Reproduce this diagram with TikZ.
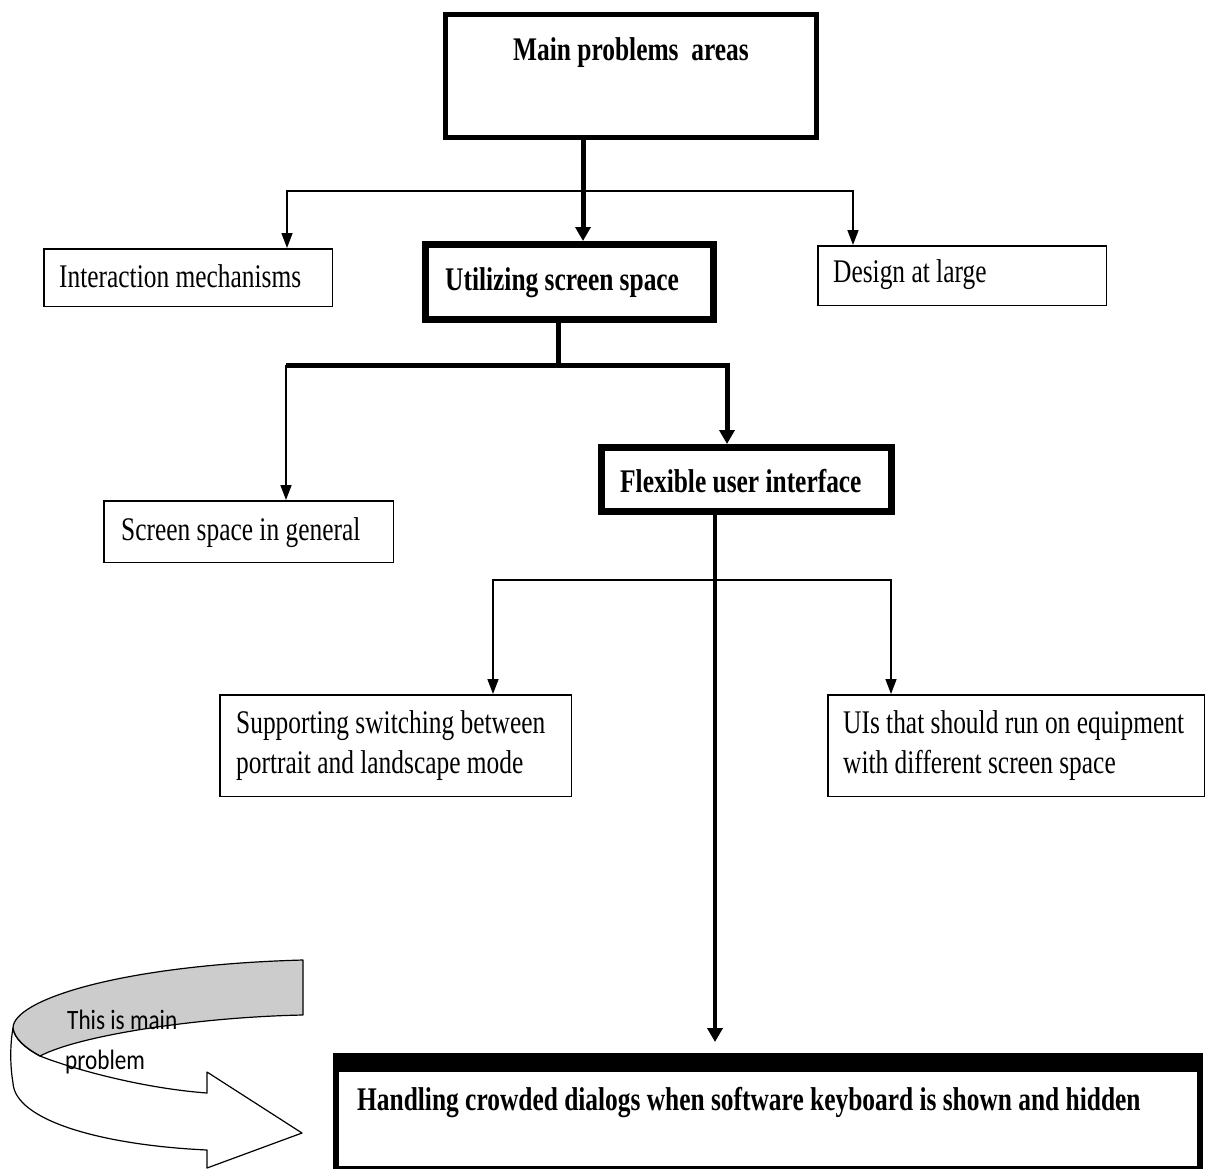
\documentclass[tikz,border=0pt]{standalone}
\usepackage{fontspec}
\setmainfont{Liberation Serif}[FakeStretch=0.77]
\newfontfamily\notefont{Carlito}[FakeStretch=0.83]
\usetikzlibrary{arrows.meta}
\definecolor{bandgray}{RGB}{204,204,204}
\begin{document}
\begin{tikzpicture}[x=1pt,y=-1pt,
  thinbox/.style={draw,line width=1.5pt,inner sep=0pt},
  thickbox/.style={draw,line width=7pt,inner sep=0pt},
  txt/.style={anchor=base west,inner sep=0pt,font=\fontsize{33}{40}\selectfont},
  btxt/.style={txt,font=\fontsize{33}{40}\selectfont\bfseries},
  thinline/.style={line width=1.5pt,line join=miter},
  thickline/.style={line width=5pt,line join=miter},
  thintip/.style={-{Triangle[length=15pt,width=11pt]}},
  thicktip/.style={-{Triangle[length=14pt,width=15pt]}},
  bothtips/.style={{Triangle[length=15pt,width=11pt]}-{Triangle[length=15pt,width=11pt]}}
]
\useasboundingbox (0,0) rectangle (1207,1168);
\fill[white] (0,0) rectangle (1207,1168);

% boxes
\node[draw,line width=5pt,inner sep=0pt,minimum width=371pt,minimum height=123pt] (main) at (631,76) {};
\node[btxt] (mainT) at (513,60) {Main problems~ areas};

\node[thinbox,minimum width=288.5pt,minimum height=57.5pt] (inter) at (188,277.5) {};
\node[txt] (interT) at (59,287) {Interaction mechanisms};

\node[thickbox,minimum width=288pt,minimum height=75pt] (ut) at (569.5,282) {};
\node[btxt] (utT) at (445,290) {Utilizing screen space};

\node[thinbox,minimum width=288.5pt,minimum height=59.5pt] (design) at (962,275.5) {};
\node[txt] (designT) at (833,282) {Design at large};

\node[thinbox,minimum width=289.5pt,minimum height=61.5pt] (screen) at (248.5,531.5) {};
\node[txt] (screenT) at (121,540) {Screen space in general};

\node[thickbox,minimum width=290pt,minimum height=64pt] (flex) at (746.5,479.5) {};
\node[btxt] (flexT) at (620,492) {Flexible user interface};

\node[thinbox,minimum width=351.5pt,minimum height=101.5pt] (sup) at (395.5,745.5) {};
\node[txt] (supT1) at (236,733) {Supporting switching between};
\node[txt] (supT2) at (236,773) {portrait and landscape mode};

\node[thinbox,minimum width=376.5pt,minimum height=101.5pt] (uis) at (1016,745.5) {};
\node[txt] (uisT1) at (843,733) {UIs that should run on equipment};
\node[txt] (uisT2) at (843,773) {with different screen space};

\node[draw,line width=6pt,inner sep=0pt,minimum width=864pt,minimum height=113pt] (hand) at (768,1112.5) {};
\fill (hand.north west) rectangle ([yshift=-19pt]hand.north east);
\node[btxt] (handT) at (357,1110) {Handling crowded dialogs when software keyboard is shown and hidden};

% connector coordinates
\coordinate (c1) at (583,0);
\coordinate (b1L) at (287,191);
\coordinate (b1R) at (853,191);
\coordinate (c2) at (558,0);
\coordinate (b2L) at (286,365);
\coordinate (b2R) at (727,365);
\coordinate (c3) at (715,0);
\coordinate (b3L) at (493,580);
\coordinate (b3R) at (891,580);

% connectors
\draw[thinline,bothtips] (inter.north -| b1L) -- (b1L) -- (b1R) -- (design.north -| b1R);
\draw[thickline,thicktip] (main.south -| c1) -- (ut.north -| c1);

\draw[thickline] (ut.south -| c2) -- (c2 |- b2L);
\draw[thinline,thintip] (b2L) -- (screen.north -| b2L);
\draw[thickline,thicktip] (b2L) -- (b2R) -- (flex.north -| b2R);

\draw[thinline,bothtips] (sup.north -| b3L) -- (b3L) -- (b3R) -- (uis.north -| b3R);
\draw[line width=4.5pt,thicktip,shorten >=11pt] (flex.south -| c3) -- (hand.north -| c3);

% curved arrow (back band)
\fill[bandgray] (303,960) -- (303,1015) .. controls (200,1017) and (80,1035) .. (40,1056)
  .. controls (25,1048) and (14,1038) .. (13,1028)
  .. controls (13,1000) and (120,965) .. (303,960) -- cycle;
% front band
\fill[white] (13,1028) .. controls (14,1038) and (25,1048) .. (40,1056)
  .. controls (70,1068) and (140,1088) .. (207,1093) -- (207,1072) -- (302,1133)
  -- (207,1168) -- (207,1150) .. controls (100,1145) and (15,1120) .. (13,1083)
  .. controls (10,1065) and (10,1045) .. (13,1028) -- cycle;

\node[anchor=base west,inner sep=0pt,font=\notefont\fontsize{28}{40}\selectfont] (note1) at (67,1029) {This is main};
\node[anchor=base west,inner sep=0pt,font=\notefont\fontsize{28}{40}\selectfont] (note2) at (65,1069) {problem};

\draw[line width=1.2pt,line join=round] (303,960) -- (303,1015) .. controls (200,1017) and (80,1035) .. (40,1056)
  .. controls (25,1048) and (14,1038) .. (13,1028)
  .. controls (13,1000) and (120,965) .. (303,960) -- cycle;
\draw[line width=1.2pt,line join=round] (13,1028) .. controls (14,1038) and (25,1048) .. (40,1056)
  .. controls (70,1068) and (140,1088) .. (207,1093) -- (207,1072) -- (302,1133)
  -- (207,1168) -- (207,1150) .. controls (100,1145) and (15,1120) .. (13,1083)
  .. controls (10,1065) and (10,1045) .. (13,1028) -- cycle;
\end{tikzpicture}
\end{document}
